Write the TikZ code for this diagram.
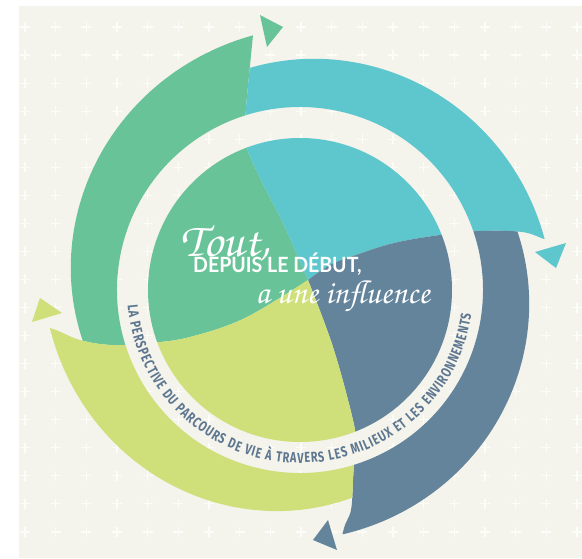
\documentclass[tikz,border=0pt]{standalone}
\usepackage{fontspec}
\setmainfont{Lato}
\newfontfamily\titlefont{Lato}[FakeStretch=0.93]
\newfontfamily\ringfont{Fira Sans}[FakeStretch=0.75]
\usetikzlibrary{decorations.text}
\definecolor{bgc}{HTML}{F4F3EC}
\definecolor{crossc}{HTML}{FCFCF8}
\definecolor{greenc}{HTML}{69C399}
\definecolor{cyanc}{HTML}{5DC7CD}
\definecolor{darkc}{HTML}{63849B}
\definecolor{yellowc}{HTML}{CFE07A}
\definecolor{ringc}{HTML}{5E7790}
\newcommand\scriptfnt{\usefont{T1}{pzc}{mb}{it}}
\tikzset{
  crossline/.style={draw=crossc, line width=1.2pt},
  titletext/.style={text=white, inner sep=0pt, font=\titlefont\bfseries\fontsize{21}{21}\selectfont},
  scripttext/.style={text=white, inner sep=0pt, font=\scriptfnt\fontsize{48}{48}\selectfont},
  scripttexttwo/.style={text=white, inner sep=0pt, font=\scriptfnt\fontsize{33}{33}\selectfont},
}
\begin{document}
\begin{tikzpicture}[x=1pt,y=1pt]
\useasboundingbox (-300,-268) rectangle (282,290);
\fill[white] (-300,-268) rectangle (282,290);
\fill[bgc] (-281,-268) rectangle (282,284);
\foreach \i in {0,...,18}{\foreach \j in {0,...,18}{
  \draw[crossline] ({-275+30.67*\i-5},{263-28.05*\j}) -- ++(10,0)
                   ({-275+30.67*\i},{263-28.05*\j-5}) -- ++(0,10);
}}
% green
\begin{scope}
\clip plot[smooth,tension=.6] coordinates {(8,10) (-55,-28) (-110,-47) (-150,-53) (-188,-55) (-220,-50) (-250,-38) (-290,-30)}
  -- (-400,-30) -- (-400,400) -- (-43,400)
  -- plot[smooth,tension=.6] coordinates {(-43,300) (-47,255) (-54,182) (-55,149) (-40,112) (-17,67) (8,10)} -- cycle;
\fill[greenc] (0,0) circle[radius=152];
\fill[greenc] (215:183) arc[start angle=215, end angle=80, radius=183]
  -- plot[domain=80:215, samples=90] (\x:{259+0.3875*(100.4-\x)}) -- cycle;
\end{scope}
% cyan
\begin{scope}
\clip plot[smooth,tension=.6] coordinates {(8,10) (-17,67) (-40,112) (-55,149) (-54,182) (-47,255) (-43,300)}
  -- (-43,400) -- (400,400) -- (400,36)
  -- plot[smooth,tension=.6] coordinates {(290,36) (247,50) (222,58) (180,59) (140,55) (94,47) (53,34) (30,25) (8,10)} -- cycle;
\fill[cyanc] (0,0) circle[radius=152];
\fill[cyanc] (125:183) arc[start angle=125, end angle=-10, radius=183]
  -- plot[domain=-10:125, samples=90] (\x:{250+0.244*(11.4-\x)}) -- cycle;
\end{scope}
% dark
\begin{scope}
\clip plot[smooth,tension=.6] coordinates {(8,10) (30,25) (53,34) (94,47) (140,55) (180,59) (222,58) (247,50) (290,36)}
  -- (400,36) -- (400,-400) -- (36,-400)
  -- plot[smooth,tension=.6] coordinates {(36,-290) (43,-242) (51,-220) (53,-190) (55,-152) (53,-130) (33,-57) (8,10)} -- cycle;
\fill[darkc] (0,0) circle[radius=152];
\fill[darkc] (30:183) arc[start angle=30, end angle=-100, radius=183]
  -- plot[domain=-100:30, samples=90] (\x:{248+0.24*(-80-\x)}) -- cycle;
\end{scope}
% yellow
\begin{scope}
\clip plot[smooth,tension=.6] coordinates {(8,10) (33,-57) (53,-130) (55,-152) (53,-190) (51,-220) (43,-242) (36,-290)}
  -- (36,-400) -- (-400,-400) -- (-400,-30)
  -- plot[smooth,tension=.6] coordinates {(-290,-30) (-250,-38) (-220,-50) (-188,-55) (-150,-53) (-110,-47) (-55,-28) (8,10)} -- cycle;
\fill[yellowc] (0,0) circle[radius=152];
\fill[yellowc] (-55:183) arc[start angle=-55, end angle=-190, radius=183]
  -- plot[domain=-190:-55, samples=90] (\x:{253+0.407*(-171.4-\x)}) -- cycle;
\end{scope}
% arrow heads
\fill[greenc] (-40,275) -- (-17,263) -- (-33,243) -- cycle;
\fill[cyanc] (235,38) -- (266,47) -- (256,22) -- cycle;
\fill[darkc] (13,-250) -- (28,-230) -- (37,-260) -- cycle;
\fill[yellowc] (-260,-8) -- (-238,-23) -- (-268,-32) -- cycle;
% ring text
\path[decorate, decoration={text along path, text align=fit to path, text color=ringc,
  text={|\ringfont\bfseries\fontsize{14.5}{15}\selectfont|LA PERSPECTIVE DU PARCOURS DE VIE À TRAVERS LES MILIEUX ET LES ENVIRONNEMENTS}}]
  (185:173) arc[start angle=185, end angle=352, radius=173];
% title
\node[scripttext, anchor=base west] (tout) at (-120,34) {Tout,};
\node[titletext, anchor=base west] (depuis) at (-107,18) {DEPUIS LE DÉBUT,};
\node[scripttexttwo, anchor=base east] (influ) at (130,-13) {a une influence};
\end{tikzpicture}
\end{document}
